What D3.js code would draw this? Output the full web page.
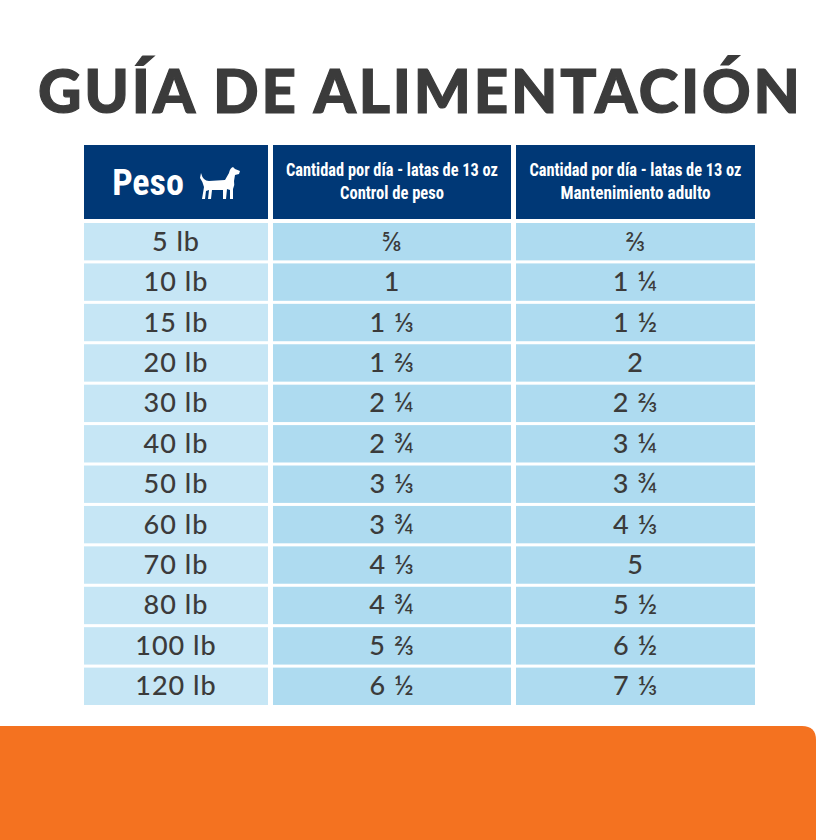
<!DOCTYPE html><html><head><meta charset="utf-8"><script src="https://d3js.org/d3.v7.min.js"></script>
<style>body{margin:0;background:#fff}</style></head><body><svg id="c" width="840" height="840"></svg>
<script>
const title="GUÍA DE ALIMENTACIÓN";
const headers=[["Peso"],["Cantidad por día - latas de 13 oz","Control de peso"],["Cantidad por día - latas de 13 oz","Mantenimiento adulto"]];
const pesos=["5 lb","10 lb","15 lb","20 lb","30 lb","40 lb","50 lb","60 lb","70 lb","80 lb","100 lb","120 lb"];
const control=["⅝","1","1 ⅓","1 ⅔","2 ¼","2 ¾","3 ⅓","3 ¾","4 ⅓","4 ¾","5 ⅔","6 ½"];
const mantenimiento=["⅔","1 ¼","1 ½","2","2 ⅔","3 ¼","3 ¾","4 ⅓","5","5 ½","6 ½","7 ⅓"];
const svg=d3.select("#c");
svg.append("path").attr("d","M0,726 H802 Q816,726 816,740 V840 H0 Z").attr("fill","#f47220");
svg.append("text").attr("x",38).attr("y",113).attr("textLength",762).attr("lengthAdjust","spacing").attr("font-family","Lato, 'DejaVu Sans'").attr("font-weight",900).attr("font-size",60).attr("fill","#3b3b3b").attr("stroke","#3b3b3b").attr("stroke-width",1.2).text(title);
const x=d3.scaleOrdinal().domain([0,1,2]).range([84,273,516]);
const w=[184,238,239];
const y=d3.scaleBand().domain(d3.range(pesos.length)).range([223,705]).paddingInner(0.075).paddingOuter(0);
headers.forEach((h,i)=>{
 svg.append("rect").attr("x",x(i)).attr("y",145).attr("width",w[i]).attr("height",74).attr("fill","#003876");
 if(i===0){
  svg.append("text").attr("x",x(i)+64).attr("y",195).attr("text-anchor","middle").attr("font-family","'Liberation Sans Narrow','Roboto Condensed',sans-serif").attr("font-weight",700).attr("font-size",36).attr("fill","#fff").text(h[0]);
  const g=svg.append("g").attr("transform",`translate(${x(i)+115},165)`).attr("fill","#fff");
  g.append("path").attr("d","M2,8 Q4,16 10,16 L26,15 L30,8 Q31,3 34,2 L36,4 L41,6 L40,9 L36,10 L35,16 Q36,20 34,24 L34,34 L31,34 L31,25 L28,24 L27,34 L24,34 L24,25 L13,25 L12,34 L9,34 L10,25 L7,26 L6,34 L3,34 L5,22 Q4,17 1,13 Z");
 } else {
  const lens=[212,i===1?104:150];
  h.forEach((t,k)=>svg.append("text").attr("x",x(i)+w[i]/2-lens[k]/2).attr("y",176+k*23).attr("textLength",lens[k]).attr("lengthAdjust","spacingAndGlyphs").attr("font-family","'Liberation Sans Narrow','Roboto Condensed',sans-serif").attr("font-weight",700).attr("font-size",19).attr("fill","#fff").text(t));
 }
});
const cols=[pesos,control,mantenimiento];
cols.forEach((arr,i)=>{
 arr.forEach((v,r)=>{
  svg.append("rect").attr("x",x(i)).attr("y",y(r)).attr("width",w[i]).attr("height",y.bandwidth()).attr("fill",i===0?"#c6e6f5":"#aedbf0");
  svg.append("text").attr("x",x(i)+w[i]/2).attr("y",y(r)+y.bandwidth()/2+9).attr("text-anchor","middle").attr("font-family","Lato,'DejaVu Sans'").attr("font-weight",500).attr("font-size",27).attr("letter-spacing",1).attr("fill","#3b3b3b").text(v);
 });
});
</script></body></html>
